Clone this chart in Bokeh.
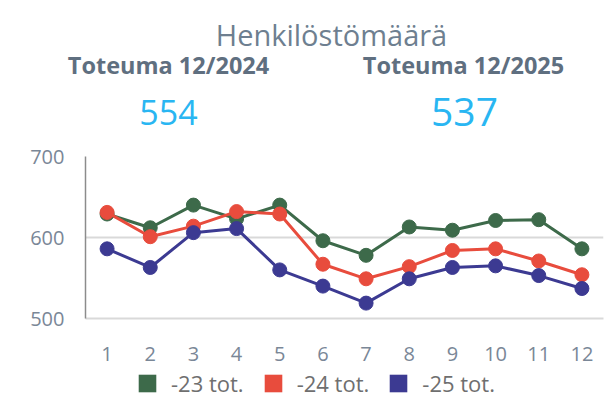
from bokeh.plotting import figure
from bokeh.layouts import column
from bokeh.models import (FactorRange, Range1d, FixedTicker, Label, Legend, LegendItem)
from bokeh.embed import file_html
from bokeh.resources import INLINE

# ---- data ----
months = ["1", "2", "3", "4", "5", "6", "7", "8", "9", "10", "11", "12"]
series_names = ["-23 tot.", "-24 tot.", "-25 tot."]
v23 = [629, 612, 640, 623, 640, 596, 578, 613, 609, 621, 622, 586]
v24 = [631, 601, 614, 632, 629, 567, 549, 564, 584, 586, 571, 554]
v25 = [586, 563, 606, 611, 560, 540, 519, 549, 563, 565, 553, 537]
y_ticks = [500, 600, 700]
title_text = "Henkilöstömäärä"
kpi_labels = ["Toteuma 12/2024", "Toteuma 12/2025"]
kpi_values = ["554", "537"]

colors = ["#3d6a4a", "#e84c3d", "#3c3a92"]
FONT = "Open Sans"
TICK_COLOR = "#7a8797"
W = 613


def bare(fig):
    fig.axis.visible = False
    fig.grid.grid_line_color = None
    fig.outline_line_color = None
    fig.background_fill_color = "white"
    fig.border_fill_color = "white"
    return fig


# ---- header (pixel-like coordinates, y down) ----
HH = 141
head = bare(figure(width=W, height=HH, x_range=Range1d(0, W), y_range=Range1d(HH, 0),
                   title=None, output_backend="svg", toolbar_location=None,
                   min_border_left=0, min_border_right=0, min_border_top=0, min_border_bottom=0))
head.add_layout(Label(x=331, y=34, text=title_text, text_align="center",
                      text_baseline="alphabetic", text_font=FONT, text_font_size="29px",
                      text_color="#6e7f90"))
for xs, lab in zip([168, 463], kpi_labels):
    head.add_layout(Label(x=xs, y=64, text=lab, text_align="center",
                          text_baseline="alphabetic", text_font=FONT, text_font_style="bold",
                          text_font_size="23.5px", text_color="#5f6f80"))
for xs, ys, sz, val in zip([168, 464], [112, 111], ["34px", "39px"], kpi_values):
    head.add_layout(Label(x=xs, y=ys, text=val, text_align="center",
                          text_baseline="alphabetic", text_font=FONT, text_font_size=sz,
                          text_color="#29b6f2"))

# ---- main chart ----
p = figure(width=W, frame_width=518, frame_height=162, x_range=FactorRange(factors=months),
           y_range=Range1d(500, 700), title=None, output_backend="svg", toolbar_location=None,
           min_border_left=85, min_border_right=10, min_border_top=15,
           min_border_bottom=52)
p.outline_line_color = None
p.background_fill_color = "white"
p.border_fill_color = "white"

for vals, col in zip([v23, v24, v25], colors):
    p.line(months, vals, line_color=col, line_width=3)
    p.scatter(months, vals, size=14, fill_color=col, line_color=col)

p.yaxis.ticker = FixedTicker(ticks=y_ticks)
p.yaxis.axis_line_color = "#8c8c8c"
p.yaxis.axis_line_width = 1.5
p.yaxis.major_tick_line_color = None
p.yaxis.minor_tick_line_color = None
p.yaxis.major_label_standoff = 15
p.yaxis.major_label_text_font = FONT
p.yaxis.major_label_text_font_size = "20px"
p.yaxis.major_label_text_color = TICK_COLOR

p.xaxis.axis_line_color = "#d9d9d9"
p.xaxis.axis_line_width = 2
p.xaxis.major_tick_line_color = None
p.xaxis.minor_tick_line_color = None
p.xaxis.major_label_standoff = 22
p.xaxis.major_label_text_font = FONT
p.xaxis.major_label_text_font_size = "20px"
p.xaxis.major_label_text_color = TICK_COLOR

p.xgrid.grid_line_color = None
p.ygrid.grid_line_color = "#d9d9d9"
p.ygrid.grid_line_width = 2
p.ygrid.ticker = FixedTicker(ticks=y_ticks)

# ---- legend strip ----
LH = 30
leg = bare(figure(width=W, height=LH, x_range=Range1d(0, 1), y_range=Range1d(0, 1),
                  output_backend="svg", toolbar_location=None,
                  min_border_left=85, min_border_right=10, min_border_top=0, min_border_bottom=0))
items = []
for name, col in zip(series_names, colors):
    r = leg.quad(left=[-3], right=[-2], top=[-2], bottom=[-3], fill_color=col, line_color=None)
    items.append(LegendItem(label=name, renderers=[r]))
legend = Legend(items=items, orientation="horizontal", location=(51, 2),
                glyph_width=22, glyph_height=22, label_height=22, label_standoff=13, spacing=18,
                padding=0, margin=0, border_line_color=None, background_fill_alpha=0,
                label_text_font=FONT, label_text_font_size="22px", label_text_color="#6f6f6f")
leg.add_layout(legend, "center")

layout = column(head, column(p, leg, spacing=0), spacing=0)
open("out.html", "w").write(file_html(layout, INLINE))
